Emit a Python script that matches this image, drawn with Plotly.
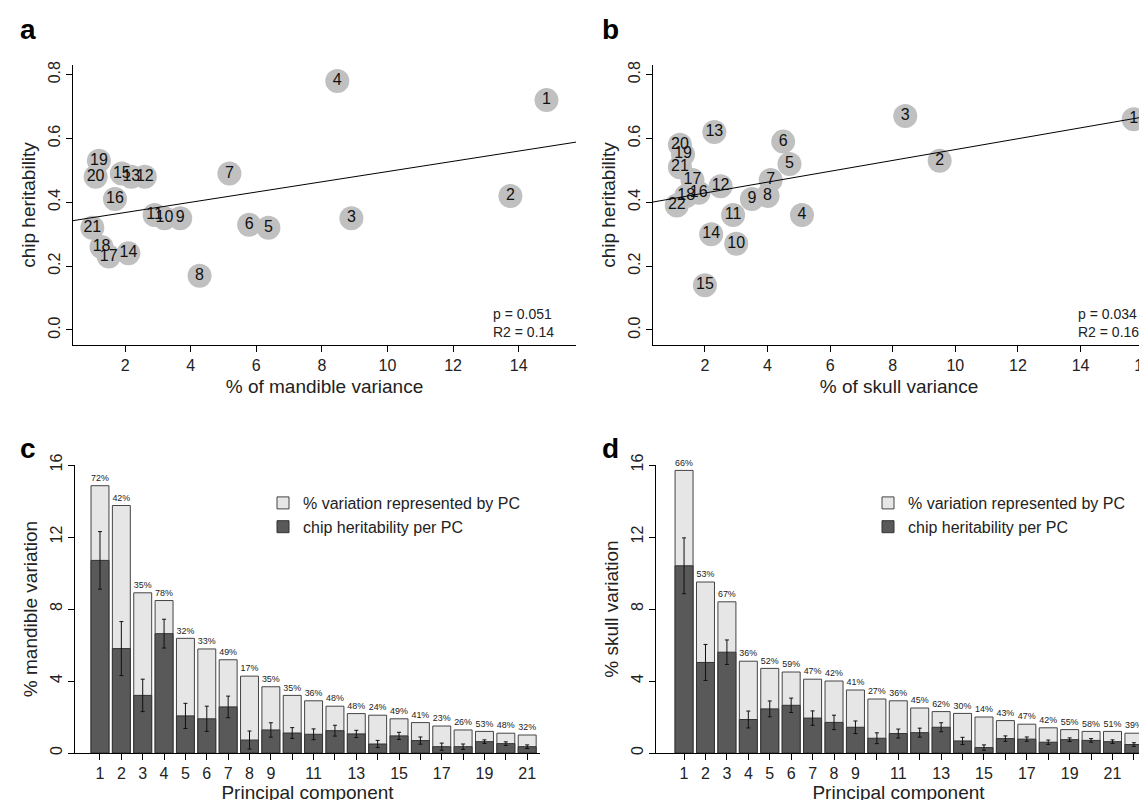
import numpy as np
import plotly.graph_objects as go

# ---- data ----
mand_pc = list(range(1, 22))
mand_var = [14.85, 13.75, 8.9, 8.47, 6.37, 5.78, 5.18, 4.27, 3.68, 3.2, 2.9, 2.6, 2.19, 2.1, 1.9, 1.69, 1.5, 1.28, 1.2, 1.1, 1.0]
mand_pct = [72, 42, 35, 78, 32, 33, 49, 17, 35, 35, 36, 48, 48, 24, 49, 41, 23, 26, 53, 48, 32]
mand_h = [10.7, 5.8, 3.2, 6.63, 2.06, 1.9, 2.56, 0.72, 1.28, 1.11, 1.04, 1.24, 1.06, 0.5, 0.95, 0.69, 0.35, 0.35, 0.63, 0.52, 0.35]
mand_err_up = [1.6, 1.5, 0.9, 0.8, 0.7, 0.7, 0.6, 0.5, 0.4, 0.3, 0.3, 0.3, 0.2, 0.2, 0.2, 0.2, 0.2, 0.15, 0.1, 0.1, 0.1]
mand_err_dn = [1.6, 1.5, 0.9, 0.8, 0.7, 0.7, 0.6, 0.5, 0.4, 0.3, 0.3, 0.3, 0.2, 0.2, 0.2, 0.2, 0.2, 0.15, 0.1, 0.1, 0.1]

skull_pc = list(range(1, 23))
skull_var = [15.7, 9.5, 8.4, 5.1, 4.7, 4.5, 4.1, 4.0, 3.5, 3.0, 2.9, 2.5, 2.3, 2.2, 2.0, 1.8, 1.6, 1.4, 1.3, 1.2, 1.2, 1.1]
skull_pct = [66, 53, 67, 36, 52, 59, 47, 42, 41, 27, 36, 45, 62, 30, 14, 43, 47, 42, 55, 58, 51, 39]
skull_h = [10.4, 5.03, 5.6, 1.86, 2.45, 2.65, 1.94, 1.7, 1.43, 0.82, 1.08, 1.13, 1.43, 0.67, 0.3, 0.8, 0.77, 0.6, 0.74, 0.7, 0.63, 0.47]
skull_err = [1.55, 1.0, 0.68, 0.47, 0.44, 0.4, 0.4, 0.4, 0.35, 0.3, 0.25, 0.25, 0.25, 0.2, 0.15, 0.15, 0.12, 0.12, 0.1, 0.1, 0.1, 0.1]

mand_ticktext = [str(i) if (i <= 9 or i % 2 == 1) else "" for i in mand_pc]
skull_ticktext = [str(i) if (i <= 9 or i % 2 == 1) else "" for i in skull_pc]

FONT = "Liberation Sans, Arial, sans-serif"
LIGHT = "#e6e6e6"
DARK = "#595959"
PT = "#c0c0c0"

W, H = 1147, 800
def dx(a, b): return [a / W, b / W]
def dy(top, bot): return [1 - bot / H, 1 - top / H]

fig = go.Figure()

def scatter_panel(xs, ys, labels, xa, ya):
    fig.add_trace(go.Scatter(x=xs, y=ys, mode="markers+text", text=[str(l) for l in labels],
                             textfont=dict(size=16, color="#111", family=FONT),
                             marker=dict(size=24, color=PT), showlegend=False,
                             xaxis=xa, yaxis=ya, cliponaxis=False))
    k, b = np.polyfit(xs, np.array(ys), 1)
    xr = np.array([0.0, 17.0])
    fig.add_trace(go.Scatter(x=xr, y=k * xr + b, mode="lines", line=dict(color="black", width=1),
                             showlegend=False, xaxis=xa, yaxis=ya, hoverinfo="skip"))

scatter_panel(mand_var, [p / 100 for p in mand_pct], mand_pc, "x", "y")
scatter_panel(skull_var, [p / 100 for p in skull_pct], skull_pc, "x2", "y2")

def bar_panel(pcs, var, pct, h, eu, ed, xa, ya, leg):
    fig.add_trace(go.Bar(x=pcs, y=var, marker=dict(color=LIGHT, line=dict(color="#444", width=1)),
                         width=0.84, name="% variation represented by PC", text=[f"{p}%" for p in pct],
                         textposition="outside", textfont=dict(size=10, color="#222", family=FONT),
                         cliponaxis=False, xaxis=xa, yaxis=ya, legend=leg))
    fig.add_trace(go.Bar(x=pcs, y=h, marker=dict(color=DARK, line=dict(color="#333", width=1)),
                         width=0.84, name="chip heritability per PC",
                         error_y=dict(type="data", array=eu, arrayminus=ed, color="#111", thickness=1, width=2),
                         xaxis=xa, yaxis=ya, legend=leg))

bar_panel(mand_pc, mand_var, mand_pct, mand_h, mand_err_up, mand_err_dn, "x3", "y3", "legend")
bar_panel(skull_pc, skull_var, skull_pct, skull_h, skull_err, skull_err, "x4", "y4", "legend2")

ax = dict(showline=True, linecolor="black", linewidth=1, ticks="outside", ticklen=6, tickcolor="black",
          showgrid=False, zeroline=False, automargin=False,
          tickfont=dict(size=16, family=FONT, color="#222"),
          title_font=dict(size=19, family=FONT, color="#222"))

fig.update_layout(
    width=W, height=H, plot_bgcolor="white", paper_bgcolor="white", barmode="overlay",
    margin=dict(l=0, r=0, t=0, b=0), font=dict(family=FONT),
    xaxis=dict(ax, domain=dx(65, 568), range=[0.41, 15.75], tickvals=[2, 4, 6, 8, 10, 12, 14],
               title=dict(text="% of mandible variance", standoff=6), anchor="y"),
    yaxis=dict(ax, domain=dy(57, 337), range=[-0.047, 0.83], tickvals=[0, 0.2, 0.4, 0.6, 0.8],
               ticktext=["0.0", "0.2", "0.4", "0.6", "0.8"], tickangle=-90,
               title=dict(text="chip heritability", standoff=4), anchor="x"),
    xaxis2=dict(ax, domain=dx(645, 1137), range=[0.34, 16.06], tickvals=[2, 4, 6, 8, 10, 12, 14, 16],
                title=dict(text="% of skull variance", standoff=6), anchor="y2"),
    yaxis2=dict(ax, domain=dy(57, 337), range=[-0.047, 0.83], tickvals=[0, 0.2, 0.4, 0.6, 0.8],
                ticktext=["0.0", "0.2", "0.4", "0.6", "0.8"], tickangle=-90,
                title=dict(text="chip heritability", standoff=4), anchor="x2"),
    xaxis3=dict(ax, domain=dx(67, 532), range=[-0.17, 21.6], tickvals=mand_pc, ticktext=mand_ticktext,
                title=dict(text="Principal component", standoff=2), anchor="y3"),
    yaxis3=dict(ax, domain=dy(457, 745), range=[0, 16], tickvals=[0, 4, 8, 12, 16], tickangle=-90,
                title=dict(text="% mandible variation", standoff=4), anchor="x3"),
    xaxis4=dict(ax, domain=dx(648, 1133), range=[-0.31, 22.33], tickvals=skull_pc, ticktext=skull_ticktext,
                title=dict(text="Principal component", standoff=2), anchor="y4"),
    yaxis4=dict(ax, domain=dy(457, 745), range=[0, 16], tickvals=[0, 4, 8, 12, 16], tickangle=-90,
                title=dict(text="% skull variation", standoff=4), anchor="x4"),
    legend=dict(x=255 / W, y=1 - 478 / H, xanchor="left", yanchor="top", bgcolor="rgba(0,0,0,0)",
                font=dict(size=16, family=FONT, color="#222"), tracegroupgap=0),
    legend2=dict(x=860 / W, y=1 - 478 / H, xanchor="left", yanchor="top", bgcolor="rgba(0,0,0,0)",
                 font=dict(size=16, family=FONT, color="#222"), tracegroupgap=0),
)

anns = []
for letter, x, y in [("a", 10, 22), ("b", 592, 22), ("c", 10, 440), ("d", 592, 440)]:
    anns.append(dict(text=f"<b>{letter}</b>", x=x / W, y=1 - y / H, xref="paper", yref="paper",
                     xanchor="left", yanchor="middle", showarrow=False, font=dict(size=28, family=FONT, color="black")))
for txt, x in [("p = 0.051<br>R2 = 0.14", 483), ("p = 0.034<br>R2 = 0.16", 1068)]:
    anns.append(dict(text=txt, x=x / W, y=1 - 296 / H, xref="paper", yref="paper", align="left",
                     xanchor="left", yanchor="top", showarrow=False, font=dict(size=14, family=FONT, color="#222")))
fig.update_layout(annotations=anns)

fig.write_html("out.html")
